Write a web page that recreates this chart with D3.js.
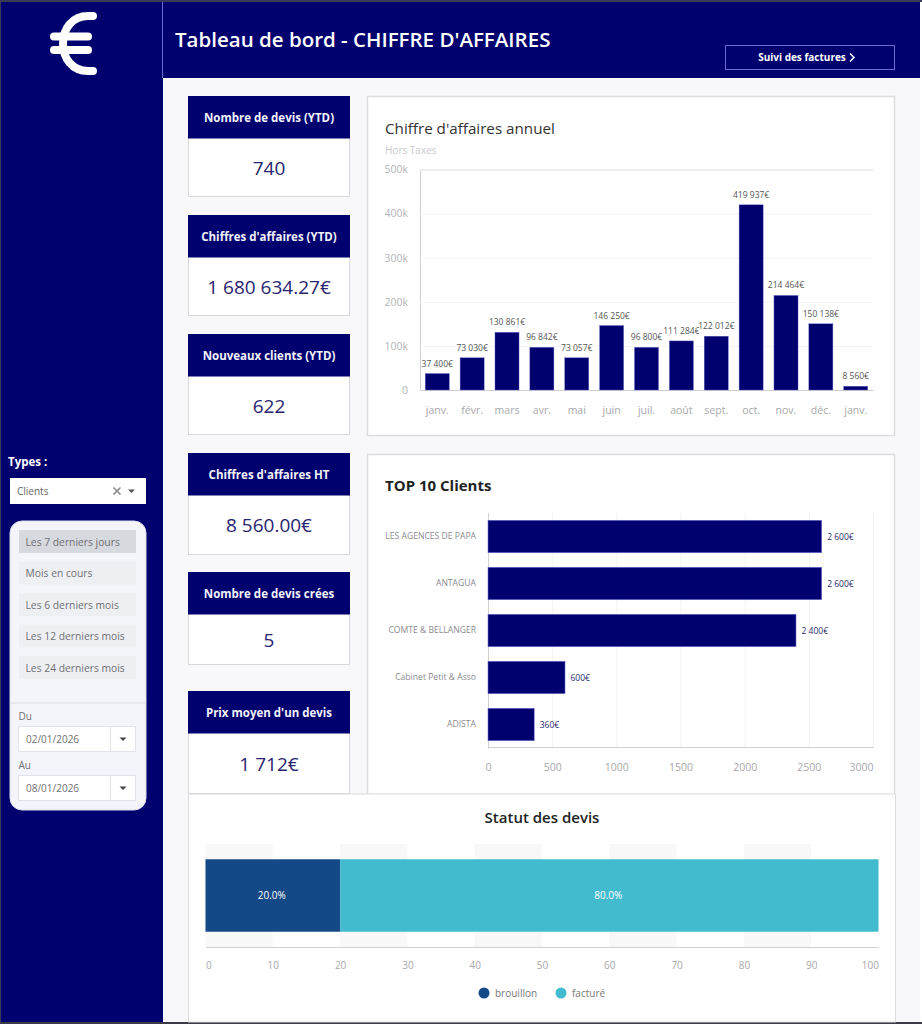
<!doctype html>
<html lang="fr">

<head>
  <meta charset="UTF-8" />
  <title>Tableau de bord - CHIFFRE D'AFFAIRES</title>
  <script src="https://cdn.jsdelivr.net/npm/d3@7"></script>
  <style>
    html, body { margin: 0; padding: 0; background: #f8f8fa; }
    svg { display: block; }
    text { font-family: "Open Sans", sans-serif; }
    .domain { stroke: #cfcfd4; }
    .tick line { stroke: #f3f3f5; }
  </style>
</head>

<body>
  <script>
    // annual turnover
    var months = ["janv.", "févr.", "mars", "avr.", "mai", "juin", "juil.", "août", "sept.", "oct.", "nov.", "déc.", "janv."];
    var revenue = [37400, 73030, 130861, 96842, 73057, 146250, 96800, 111284, 122012, 419937, 214464, 150138, 8560];
    var revenueTicks = [0, 100000, 200000, 300000, 400000, 500000];

    // top clients
    var clients = ["LES AGENCES DE PAPA", "ANTAGUA", "COMTE & BELLANGER", "Cabinet Petit & Asso", "ADISTA"];
    var clientValues = [2600, 2600, 2400, 600, 360];
    var clientTicks = [0, 500, 1000, 1500, 2000, 2500, 3000];

    // quote status
    var statusNames = ["brouillon", "facturé"];
    var statusValues = [20, 80];
    var statusColors = ["#154886", "#43bbcf"];
    var statusTicks = d3.range(0, 101, 10);

    // side cards
    var kpiTitles = ["Nombre de devis (YTD)", "Chiffres d'affaires (YTD)", "Nouveaux clients (YTD)", "Chiffres d'affaires HT", "Nombre de devis crées", "Prix moyen d'un devis"];
    var kpiValues = ["740", "1 680 634.27€", "622", "8 560.00€", "5", "1 712€"];
    var kpiTops = [96, 215, 334, 453, 572, 691];
    var kpiBottoms = [197, 316, 435, 555, 665, 794];

    // filters
    var periods = ["Les 7 derniers jours", "Mois en cours", "Les 6 derniers mois", "Les 12 derniers mois", "Les 24 derniers mois"];
    var dateLabels = ["Du", "Au"];
    var dateValues = ["02/01/2026", "08/01/2026"];

    var navy = "#00006e";
    var barEdge = "#6f6fd0";

    var svg = d3.select("body").append("svg")
      .attr("width", 922).attr("height", 1024);

    function addText(parent, str, x, y, size, color, weight, anchor) {
      return parent.append("text")
        .text(str)
        .attr("x", x).attr("y", y)
        .attr("font-size", size)
        .attr("fill", color)
        .attr("font-weight", weight || 400)
        .attr("text-anchor", anchor || "start");
    }

    function spaced(v) {
      return d3.format(",")(v).replace(/,/g, " ") + "€";
    }

    // page frame
    svg.append("rect").attr("width", 922).attr("height", 1024).attr("fill", "#f8f8fa");
    svg.append("rect").attr("x", 0).attr("y", 0).attr("width", 163).attr("height", 1024).attr("fill", navy);
    svg.append("rect").attr("x", 163).attr("y", 0).attr("width", 757).attr("height", 78).attr("fill", navy);
    svg.append("rect").attr("x", 162).attr("y", 2).attr("width", 1).attr("height", 76).attr("fill", "#6a6ad0");
    svg.append("rect").attr("x", 920).attr("y", 0).attr("width", 2).attr("height", 1024).attr("fill", "#ffffff");
    svg.append("rect").attr("x", 0).attr("y", 0).attr("width", 922).attr("height", 2).attr("fill", "#3b3b58");
    svg.append("rect").attr("x", 0).attr("y", 1022).attr("width", 922).attr("height", 2).attr("fill", "#3b3b48");
    svg.append("rect").attr("x", 0).attr("y", 0).attr("width", 1).attr("height", 1024).attr("fill", "#3b3b58");

    // euro logo
    var logo = svg.append("g").attr("fill", "none").attr("stroke", "#fff")
      .attr("stroke-width", 8).attr("stroke-linecap", "round");
    logo.append("path").attr("d", "M93 16 H88 C72 16 63 29 63 43.5 C63 58 72 71 88 71 H93");
    logo.append("path").attr("d", "M54 36.5 H88");
    logo.append("path").attr("d", "M54 50 H88");

    // header
    addText(svg, "Tableau de bord - CHIFFRE D'AFFAIRES", 175, 47, 20.5, "#fff", 600);
    svg.append("rect").attr("x", 725.5).attr("y", 45.5).attr("width", 169).attr("height", 24)
      .attr("fill", "none").attr("stroke", "#6a6ad0");
    addText(svg, "Suivi des factures", 802, 61, 10, "#fff", 700, "middle");
    svg.append("path").attr("d", "M850 53.5 L854 57.5 L850 61.5")
      .attr("fill", "none").attr("stroke", "#fff").attr("stroke-width", 1.5);

    // filters
    addText(svg, "Types :", 8, 466, 11.5, "#fff", 700);
    svg.append("rect").attr("x", 10).attr("y", 478).attr("width", 136).attr("height", 26).attr("fill", "#fff");
    addText(svg, "Clients", 17, 495, 10, "#666");
    svg.append("path").attr("d", "M113.5 487.5 l7 7 M120.5 487.5 l-7 7")
      .attr("fill", "none").attr("stroke", "#888").attr("stroke-width", 1.6);
    svg.append("path").attr("d", "M128 489.5 h7 l-3.5 3.5 z").attr("fill", "#555");

    svg.append("rect").attr("x", 10).attr("y", 521).attr("width", 136).attr("height", 289)
      .attr("rx", 12).attr("fill", "#f4f5fb").attr("stroke", "#d9dbe8");

    var buttonY = d3.scalePoint().domain(periods).range([530, 656]);
    var buttons = svg.append("g").selectAll("g").data(periods).enter().append("g");
    buttons.append("rect")
      .attr("x", 19).attr("y", function (d) { return buttonY(d); })
      .attr("width", 117).attr("height", 23)
      .attr("fill", function (d, i) { return i == 0 ? "#d6d9de" : "#eeeff3"; });
    buttons.append("text")
      .text(function (d) { return d; })
      .attr("x", 25.5).attr("y", function (d) { return buttonY(d) + 15.5; })
      .attr("font-size", 10.3).attr("fill", "#707074");

    svg.append("line").attr("x1", 11).attr("x2", 145).attr("y1", 703).attr("y2", 703).attr("stroke", "#d9dbe0");

    var dateTops = [726, 775];
    dateValues.forEach(function (d, i) {
      var top = dateTops[i];
      addText(svg, dateLabels[i], 18.5, top - 6, 10, "#707074");
      svg.append("rect").attr("x", 18.5).attr("y", top + 0.5).attr("width", 117).attr("height", 25)
        .attr("fill", "#fff").attr("stroke", "#e2e3ea");
      svg.append("line").attr("x1", 110.5).attr("x2", 110.5).attr("y1", top).attr("y2", top + 26).attr("stroke", "#e2e3ea");
      addText(svg, d, 26, top + 17, 10, "#707074");
      svg.append("path").attr("d", "M119.5 " + (top + 11.5) + " h7 l-3.5 3.5 z").attr("fill", "#444");
    });

    // KPI cards
    var cards = svg.append("g").selectAll("g").data(kpiTitles).enter().append("g");
    cards.append("rect")
      .attr("x", 188.5).attr("y", function (d, i) { return kpiTops[i] + 0.5; })
      .attr("width", 161).attr("height", function (d, i) { return kpiBottoms[i] - kpiTops[i] - 1; })
      .attr("fill", "#fff").attr("stroke", "#d8d8dc");
    cards.append("rect")
      .attr("x", 188).attr("y", function (d, i) { return kpiTops[i]; })
      .attr("width", 162).attr("height", 42.5)
      .attr("fill", navy);
    cards.append("text")
      .text(function (d) { return d; })
      .attr("x", 269).attr("y", function (d, i) { return kpiTops[i] + 25.5; })
      .attr("text-anchor", "middle").attr("font-size", 11.5).attr("font-weight", 700).attr("fill", "#f2f2fb");
    cards.append("text")
      .text(function (d, i) { return kpiValues[i]; })
      .attr("x", 269).attr("y", function (d, i) { return (kpiTops[i] + 42 + kpiBottoms[i]) / 2 + 7; })
      .attr("text-anchor", "middle").attr("font-size", 19).attr("fill", "#29246f");

    function panel(x, y, w, h) {
      svg.append("rect").attr("x", x + 0.5).attr("y", y + 0.5).attr("width", w - 1).attr("height", h - 1)
        .attr("fill", "#fff").attr("stroke", "#dcdcde").attr("stroke-width", 1.5);
    }

    // annual turnover chart
    panel(367, 96, 528, 340);
    addText(svg, "Chiffre d'affaires annuel", 385, 134, 15.2, "#333");
    addText(svg, "Hors Taxes", 385, 154, 10, "#c8c8cc");

    var monthIds = d3.range(months.length);
    var xMonth = d3.scaleBand().domain(monthIds).range([420, 873]).paddingInner(0.31).paddingOuter(0.15);
    var yRevenue = d3.scaleLinear().domain([0, 500000]).range([390, 169.5]);

    var revenueY = svg.append("g").attr("transform", "translate(420,0)")
      .call(d3.axisLeft(yRevenue).tickValues(revenueTicks).tickSize(-453).tickPadding(12)
        .tickFormat(function (d) { return d == 0 ? "0" : (d / 1000) + "k"; }));
    revenueY.selectAll("text").attr("font-size", 10.5).attr("fill", "#b4b4b8");

    var revenueX = svg.append("g").attr("transform", "translate(0,390)")
      .call(d3.axisBottom(xMonth).tickSize(0).tickPadding(17)
        .tickFormat(function (d) { return months[d]; }));
    revenueX.selectAll("text").attr("font-size", 10.5).attr("fill", "#a8a8ac");

    svg.append("g").selectAll("rect").data(revenue).enter().append("rect")
      .attr("x", function (d, i) { return xMonth(i); })
      .attr("y", function (d) { return yRevenue(d); })
      .attr("width", xMonth.bandwidth())
      .attr("height", function (d) { return 390 - yRevenue(d); })
      .attr("fill", navy).attr("stroke", barEdge).attr("stroke-width", 0.4);

    svg.append("g").selectAll("text").data(revenue).enter().append("text")
      .text(spaced)
      .attr("x", function (d, i) { return xMonth(i) + xMonth.bandwidth() / 2; })
      .attr("y", function (d) { return yRevenue(d) - 7; })
      .attr("text-anchor", "middle").attr("font-size", 8.5).attr("fill", "#555");

    // top clients chart
    panel(367, 454, 528, 341);
    addText(svg, "TOP 10 Clients", 385, 491, 15, "#222", 700);

    var xClient = d3.scaleLinear().domain([0, 3000]).range([488, 873]);
    var yClient = d3.scaleBand().domain(clients).range([513, 748]).paddingInner(0.31).paddingOuter(0.155);

    var clientX = svg.append("g").attr("transform", "translate(0,747)")
      .call(d3.axisBottom(xClient).tickValues(clientTicks).tickSize(-235).tickPadding(17).tickFormat(d3.format("d")));
    clientX.selectAll("text").attr("font-size", 10.5).attr("fill", "#a8a8ac");
    clientX.selectAll(".tick").filter(function (d) { return d == 3000; }).select("text").attr("text-anchor", "end");

    var clientY = svg.append("g").attr("transform", "translate(488,0)")
      .call(d3.axisLeft(yClient).tickSize(0).tickPadding(12));
    clientY.selectAll("text").attr("font-size", 8.6).attr("fill", "#8a8a90");

    svg.append("g").selectAll("rect").data(clientValues).enter().append("rect")
      .attr("x", xClient(0))
      .attr("y", function (d, i) { return yClient(clients[i]); })
      .attr("width", function (d) { return xClient(d) - xClient(0); })
      .attr("height", yClient.bandwidth())
      .attr("fill", navy).attr("stroke", barEdge).attr("stroke-width", 0.6);

    svg.append("g").selectAll("text").data(clientValues).enter().append("text")
      .text(spaced)
      .attr("x", function (d) { return xClient(d) + 5.5; })
      .attr("y", function (d, i) { return yClient(clients[i]) + yClient.bandwidth() / 2 + 3; })
      .attr("font-size", 8.5).attr("fill", "#2a2a70");

    // quote status chart
    svg.append("rect").attr("x", 188.5).attr("y", 794).attr("width", 707).attr("height", 228)
      .attr("fill", "#fff").attr("stroke", "#dcdcde");
    addText(svg, "Statut des devis", 542, 822.5, 15, "#222", 600, "middle");

    var xStatus = d3.scaleLinear().domain([0, 100]).range([205.5, 878.5]);
    var yStatus = d3.scaleBand().domain(["statut"]).range([844, 947]).padding(0.174);

    // alternating background bands
    svg.append("g").selectAll("rect")
      .data(statusTicks.slice(0, -1).filter(function (d) { return d % 20 == 0; }))
      .enter().append("rect")
      .attr("x", function (d) { return xStatus(d); })
      .attr("y", 844)
      .attr("width", function (d) { return xStatus(d + 10) - xStatus(d); })
      .attr("height", 103)
      .attr("fill", "#f8f8f9");

    var statusX = svg.append("g").attr("transform", "translate(0,947)")
      .call(d3.axisBottom(xStatus).tickValues(statusTicks).tickSize(0).tickPadding(15));
    statusX.selectAll("text").attr("font-size", 10).attr("fill", "#a8a8ac");
    statusX.selectAll(".tick").filter(function (d) { return d == 0; }).select("text").attr("text-anchor", "start");
    statusX.selectAll(".tick").filter(function (d) { return d == 100; }).select("text").attr("text-anchor", "end");

    var statusRow = {};
    statusNames.forEach(function (n, i) { statusRow[n] = statusValues[i]; });
    var stacked = d3.stack().keys(statusNames)([statusRow]);

    var segments = svg.append("g").selectAll("g").data(stacked).enter().append("g");
    segments.append("rect")
      .attr("x", function (d) { return xStatus(d[0][0]); })
      .attr("y", yStatus("statut"))
      .attr("width", function (d) { return xStatus(d[0][1]) - xStatus(d[0][0]); })
      .attr("height", yStatus.bandwidth())
      .attr("fill", function (d, i) { return statusColors[i]; });
    segments.append("text")
      .text(function (d) { return d3.format(".1f")(d[0][1] - d[0][0]) + "%"; })
      .attr("x", function (d) { return xStatus((d[0][0] + d[0][1]) / 2) - 1; })
      .attr("y", 899)
      .attr("text-anchor", "middle").attr("font-size", 10).attr("fill", "#fff");

    var legendX = d3.scaleOrdinal().domain(statusNames).range([484, 561]);
    var legend = svg.append("g").selectAll("g").data(statusNames).enter().append("g")
      .attr("transform", function (d) { return "translate(" + legendX(d) + ",993)"; });
    legend.append("circle").attr("r", 5.5)
      .attr("fill", function (d, i) { return statusColors[i]; });
    legend.append("text").text(function (d) { return d; })
      .attr("x", 11).attr("y", 3.5)
      .attr("font-size", 10).attr("fill", "#777");
  </script>
</body>

</html>
